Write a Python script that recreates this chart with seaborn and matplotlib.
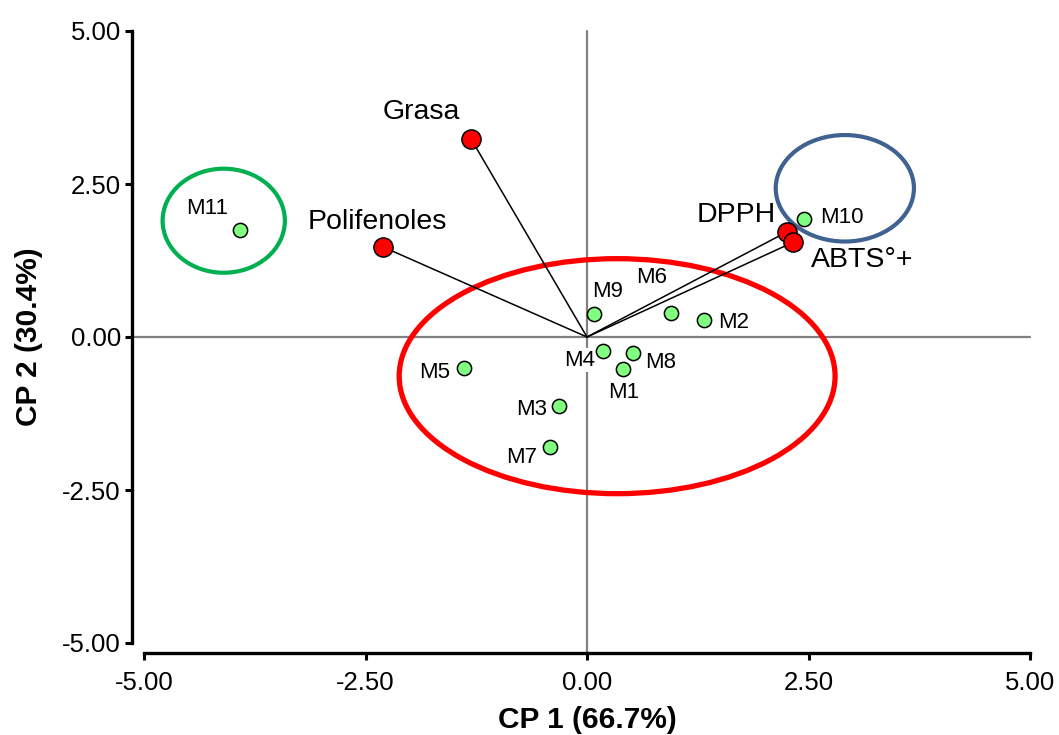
import matplotlib
matplotlib.use("Agg")
import matplotlib.pyplot as plt
from matplotlib.patches import Ellipse
import seaborn as sns
import pandas as pd

# ---- data ----
sample_names = ["M1", "M2", "M3", "M4", "M5", "M6", "M7", "M8", "M9", "M10", "M11"]
sample_cp1 = [0.41, 1.32, -0.32, 0.18, -1.39, 0.95, -0.42, 0.52, 0.08, 2.45, -3.92]
sample_cp2 = [-0.52, 0.28, -1.13, -0.23, -0.51, 0.39, -1.80, -0.26, 0.38, 1.93, 1.75]

var_names = ["Grasa", "Polifenoles", "DPPH", "ABTS°+"]
var_cp1 = [-1.31, -2.30, 2.26, 2.33]
var_cp2 = [3.24, 1.47, 1.72, 1.55]

x_ticks = [-5.0, -2.5, 0.0, 2.5, 5.0]
y_ticks = [-5.0, -2.5, 0.0, 2.5, 5.0]
x_label = "CP 1 (66.7%)"
y_label = "CP 2 (30.4%)"

# ---- style ----
sns.set_theme(style="white")
plt.rcParams["font.family"] = ["Liberation Sans", "DejaVu Sans"]
plt.rcParams["text.color"] = "black"
plt.rcParams["axes.labelcolor"] = "black"

fig = plt.figure(figsize=(10.59, 7.35), dpi=100)
ax = fig.add_axes([144 / 1059, 1 - 643 / 735, 886 / 1059, 612 / 735])

px = 0.72  # points per pixel

# zero reference lines
ax.axhline(0, xmin=-12 / 886, xmax=1.0, color="#808080", lw=1.6, zorder=1, clip_on=False)
ax.axvline(0, ymin=-10 / 612, ymax=1.0, color="#808080", lw=1.6, zorder=1, clip_on=False)

# group ellipses (annotation)
groups = [
    dict(c=(0.34, -0.64), w=4.92, h=3.84, color="#FF0000", lw=3.8),
    dict(c=(-4.10, 1.90), w=1.38, h=1.70, color="#00B050", lw=3.0),
    dict(c=(2.91, 2.43), w=1.56, h=1.74, color="#3F6290", lw=3.0),
]
for g in groups:
    ax.add_patch(Ellipse(g["c"], g["w"], g["h"], fill=False, edgecolor=g["color"],
                         lw=g["lw"], zorder=2))

# loading lines
for vx, vy in zip(var_cp1, var_cp2):
    ax.plot([0, vx], [0, vy], color="black", lw=1.1, zorder=3)

samples = pd.DataFrame({"name": sample_names, "x": sample_cp1, "y": sample_cp2})
variables = pd.DataFrame({"name": var_names, "x": var_cp1, "y": var_cp2})

sns.scatterplot(data=samples, x="x", y="y", ax=ax, s=105, color="#80FF80",
                edgecolor="black", linewidth=1.1, zorder=5, legend=False)
sns.scatterplot(data=variables, x="x", y="y", ax=ax, s=190, color="#FF0000",
                edgecolor="black", linewidth=1.1, zorder=6, legend=False)

# label offsets (pixels) and alignment
sample_offsets = {
    "M1": (0, -24, "center"), "M2": (14, -3, "left"), "M3": (-12, -3, "right"),
    "M4": (-8, -9, "right"), "M5": (-14, -4, "right"), "M6": (-35, 36, "left"),
    "M7": (-13, -10, "right"), "M8": (12, -10, "left"), "M9": (-2, 22, "left"),
    "M10": (16, 1, "left"), "M11": (-33, 21, "center"),
}
for n, x, y in zip(sample_names, sample_cp1, sample_cp2):
    dx, dy, ha = sample_offsets[n]
    kw = {}
    if n == "M4":
        kw["bbox"] = dict(boxstyle="square,pad=0.05", fc="white", ec="none")
    ax.annotate(n, (x, y), xytext=(dx * px, dy * px), textcoords="offset points",
                ha=ha, va="center", fontsize=16, color="black", zorder=4, **kw)

var_offsets = {
    "Grasa": (-50, 27, "center"), "Polifenoles": (-6, 25, "center"),
    "DPPH": (-11, 17, "right"), "ABTS°+": (17, -18, "left"),
}
for n, x, y in zip(var_names, var_cp1, var_cp2):
    dx, dy, ha = var_offsets[n]
    ax.annotate(n, (x, y), xytext=(dx * px, dy * px), textcoords="offset points",
                ha=ha, va="center", fontsize=20.5, color="black", zorder=7)

# axes
ax.set_xlim(-5, 5)
ax.set_ylim(-5, 5)
ax.set_xticks(x_ticks)
ax.set_yticks(y_ticks)
ax.set_xticklabels([f"{t:.2f}" for t in x_ticks])
ax.set_yticklabels([f"{t:.2f}" for t in y_ticks])
ax.set_xlabel(x_label, fontsize=21.5, fontweight="bold", labelpad=8, color="black")
ax.set_ylabel(y_label, fontsize=21.5, fontweight="bold", labelpad=14, color="black")

for side in ["top", "right"]:
    ax.spines[side].set_visible(False)
ax.spines["left"].set_position(("outward", 12 * px))
ax.spines["bottom"].set_position(("outward", 10 * px))
for side in ["left", "bottom"]:
    ax.spines[side].set_color("black")
    ax.spines[side].set_linewidth(2.4)
ax.tick_params(axis="both", which="major", direction="out", length=5, width=2.2,
               color="black", labelsize=18.5, labelcolor="black",
               left=True, bottom=True)
ax.tick_params(axis="x", pad=8)
ax.tick_params(axis="y", pad=3)
ax.grid(False)

fig.savefig("out.png", dpi=100)
